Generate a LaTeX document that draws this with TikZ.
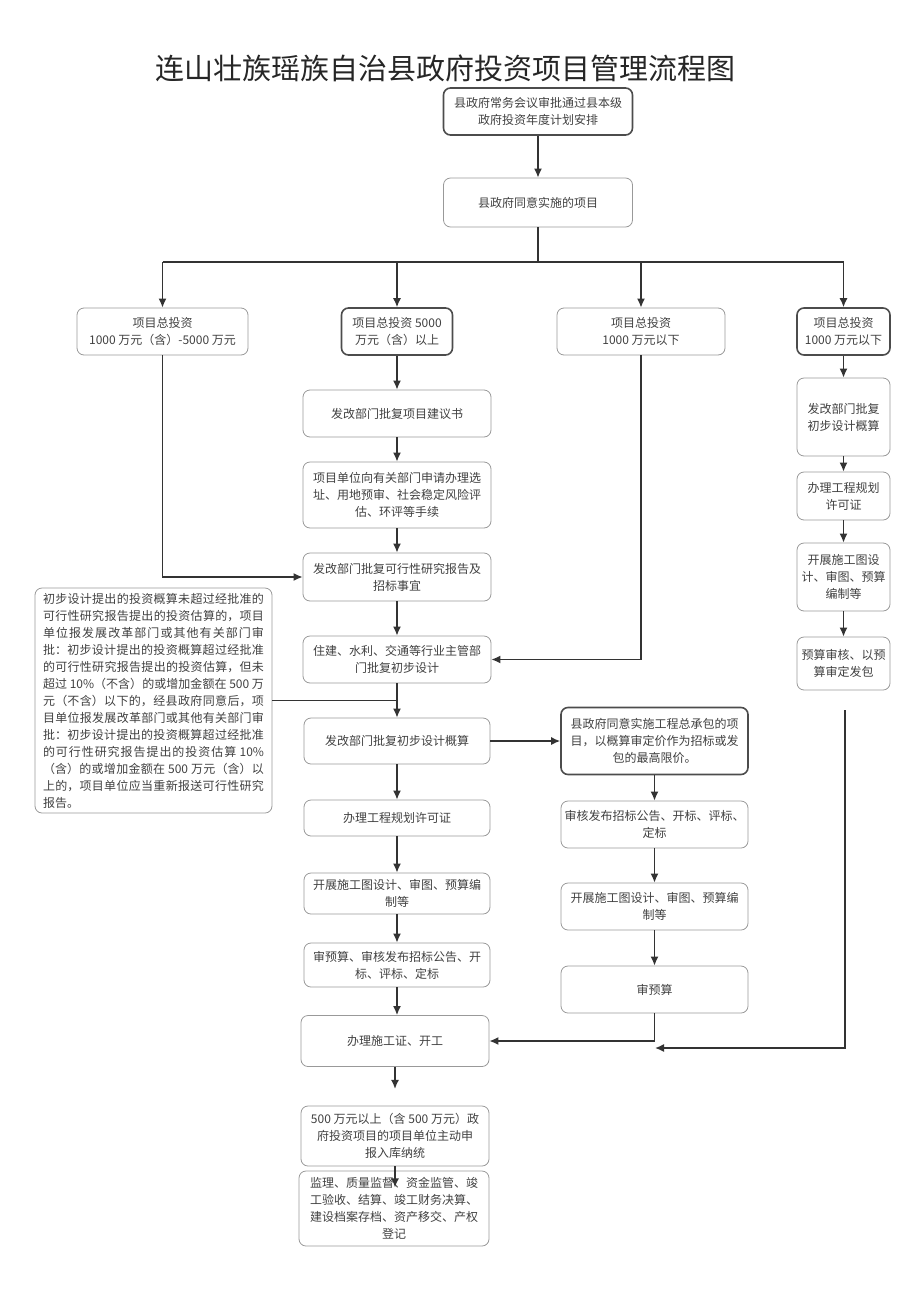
\documentclass[tikz,border=0pt]{standalone}
\usepackage{fontspec}
\setmainfont{Noto Sans CJK SC}
\XeTeXlinebreaklocale "zh"
\XeTeXlinebreakskip = 0pt plus 2pt
\usetikzlibrary{arrows.meta}

\begin{document}
\begin{tikzpicture}[x = 1pt, y = -1pt,
  box/.style = {draw = black!40, line width = 0.8pt, rounded corners = 7pt, align = center,
    text = black!75, inner sep = 2pt, font = \fontsize{12}{17}\selectfont},
  hbox/.style = {box, draw = black!70, line width = 1.6pt},
  wire/.style = {draw = black!80, line width = 1.4pt},
  arr/.style = {wire, -{Latex[length = 9pt, width = 8pt]}}]
\useasboundingbox (0,0) rectangle (920,1301);

%% title
\node[font = \fontsize{29}{31}\selectfont, text = black!85] (title) at (445,68) {连山壮族瑶族自治县政府投资项目管理流程图};

%% top
\node[hbox, minimum width = 189pt, minimum height = 47pt] (plan) at (538,111.5) {县政府常务会议审批通过县本级\\政府投资年度计划安排};
\node[box, minimum width = 189pt, minimum height = 49pt] (agree) at (538,202.5) {县政府同意实施的项目};

%% four classes
\node[box, minimum width = 171pt, minimum height = 47pt] (inv1) at (162.5,331.5) {项目总投资\\1000 万元（含）-5000 万元};
\node[hbox, minimum width = 111pt, minimum height = 47pt] (inv2) at (397,331.5) {项目总投资 5000\\万元（含）以上};
\node[box, minimum width = 168pt, minimum height = 47pt] (inv3) at (641,331.5) {项目总投资\\1000 万元以下};
\node[hbox, minimum width = 93pt, minimum height = 47pt] (inv4) at (843.5,331.5) {项目总投资\\1000 万元以下};

%% middle column
\node[box, minimum width = 188pt, minimum height = 47pt] (m1) at (397,413.5) {发改部门批复项目建议书};
\node[box, minimum width = 188pt, minimum height = 66pt] (m2) at (397,495) {项目单位向有关部门申请办理选\\址、用地预审、社会稳定风险评\\估、环评等手续};
\node[box, minimum width = 188pt, minimum height = 48pt] (m3) at (397,577) {发改部门批复可行性研究报告及\\招标事宜};
\node[box, minimum width = 188pt, minimum height = 47pt] (m4) at (397,659.5) {住建、水利、交通等行业主管部\\门批复初步设计};
\node[box, minimum width = 186pt, minimum height = 46pt] (m5) at (397,741) {发改部门批复初步设计概算};
\node[box, minimum width = 186pt, minimum height = 36pt] (m6) at (397,818) {办理工程规划许可证};
\node[box, minimum width = 186pt, minimum height = 41pt] (m7) at (397,893.5) {开展施工图设计、审图、预算编\\制等};
\node[box, minimum width = 186pt, minimum height = 44pt] (m8) at (397,965) {审预算、审核发布招标公告、开\\标、评标、定标};
\node[box, minimum width = 188pt, minimum height = 51pt] (m9) at (395,1041) {办理施工证、开工};
\node[box, minimum width = 188pt, minimum height = 60pt] (m10) at (395,1136) {500 万元以上（含 500 万元）政\\府投资项目的项目单位主动申\\报入库纳统};
\node[box, minimum width = 190pt, minimum height = 75pt] (m11) at (394,1208.5) {监理、质量监督、资金监管、竣\\工验收、结算、竣工财务决算、\\建设档案存档、资产移交、产权\\登记};

%% general contracting column
\node[hbox, minimum width = 187pt, minimum height = 67pt] (r1) at (654.5,741) {县政府同意实施工程总承包的项\\目，以概算审定价作为招标或发\\包的最高限价。};
\node[box, minimum width = 187pt, minimum height = 47pt] (r2) at (654.5,824.5) {审核发布招标公告、开标、评标、\\定标};
\node[box, minimum width = 187pt, minimum height = 47pt] (r3) at (654.5,906.5) {开展施工图设计、审图、预算编\\制等};
\node[box, minimum width = 187pt, minimum height = 47pt] (r4) at (654.5,989.5) {审预算};

%% small projects column
\node[box, minimum width = 93pt, minimum height = 78pt] (d1) at (843.5,417) {发改部门批复\\初步设计概算};
\node[box, minimum width = 93pt, minimum height = 48pt] (d2) at (843.5,496) {办理工程规划\\许可证};
\node[box, minimum width = 93pt, minimum height = 68pt] (d3) at (843.5,577) {开展施工图设\\计、审图、预算\\编制等};
\node[box, minimum width = 93pt, minimum height = 53pt] (d4) at (843.5,663.5) {预算审核、以预\\算审定发包};

%% note
\node[box, minimum width = 237pt, minimum height = 225pt, text width = 221pt, align = justify, inner sep = 0pt] (note) at (153.5,700.5) {初步设计提出的投资概算未超过经批准的\linebreak 可行性研究报告提出的投资估算的，项目\linebreak 单位报发展改革部门或其他有关部门审\linebreak 批：初步设计提出的投资概算超过经批准\linebreak 的可行性研究报告提出的投资估算，但未\linebreak 超过 10\%（不含）的或增加金额在 500 万\linebreak 元（不含）以下的，经县政府同意后，项\linebreak 目单位报发展改革部门或其他有关部门审\linebreak 批：初步设计提出的投资概算超过经批准\linebreak 的可行性研究报告提出的投资估算 10\%\linebreak （含）的或增加金额在 500 万元（含）以\linebreak 上的，项目单位应当重新报送可行性研究\linebreak 报告。};

%% connectors
\coordinate (bus) at (538,262);
\draw[arr] (plan) -- (agree);
\draw[wire] (agree) -- (bus);
\draw[wire] (inv1.north |- bus) -- (inv4.north |- bus);
\foreach \n in {inv1,inv2,inv3,inv4}
  \draw[arr] (\n.north |- bus) -- (\n.north);

\foreach \a/\b in {inv2/m1,m1/m2,m2/m3,m3/m4,m4/m5,m5/m6,m6/m7,m7/m8}
  \draw[arr] (\a) -- (\b);
\draw[arr] (m8.south) -- (m8.south |- m9.north);
\draw[arr] (m9.south) -- ++(0,22);
\draw[arr] (m10.south) -- ++(0,21);

\draw[arr] (inv1.south) |- (m3.west);
\draw[arr] (inv3.south) |- (m4.east);
\draw[wire] (note.east) -- (note.east -| m4.south);

\draw[arr] (m5) -- (r1);
\foreach \a/\b in {r1/r2,r2/r3,r3/r4}
  \draw[arr] (\a) -- (\b);
\draw[arr] (r4.south) |- (m9.east);

\foreach \a/\b in {inv4/d1,d1/d2,d2/d3,d3/d4}
  \draw[arr] (\a) -- (\b);
\coordinate (dtail) at (845,710);
\coordinate (dend) at (655,1048);
\draw[arr] (dtail) |- (dend);

\end{tikzpicture}
\end{document}
